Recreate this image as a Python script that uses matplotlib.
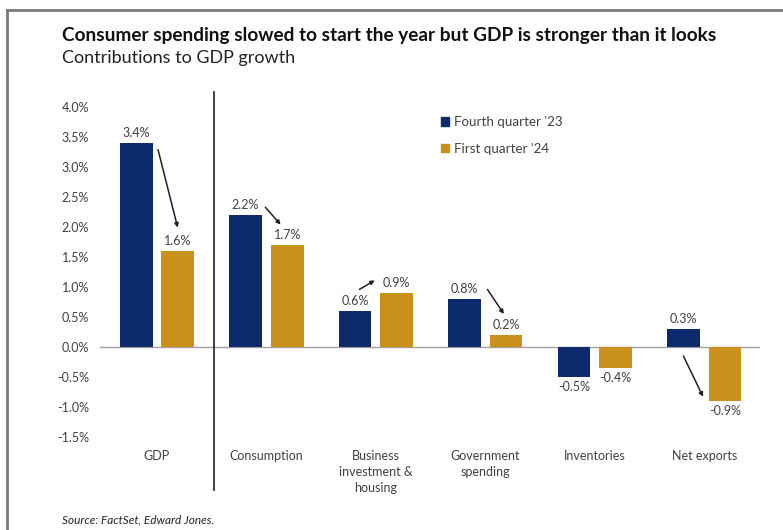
import numpy as np
import matplotlib.pyplot as plt
from matplotlib.lines import Line2D
from matplotlib.patches import Patch

plt.rcParams['font.family'] = ['Lato', 'DejaVu Sans']

# data
categories = ['GDP', 'Consumption', 'Business\ninvestment &\nhousing',
              'Government\nspending', 'Inventories', 'Net exports']
q4_23 = [3.4, 2.2, 0.6, 0.8, -0.5, 0.3]
q1_24 = [1.6, 1.7, 0.9, 0.2, -0.35, -0.9]
q4_labels = ['3.4%', '2.2%', '0.6%', '0.8%', '-0.5%', '0.3%']
q1_labels = ['1.6%', '1.7%', '0.9%', '0.2%', '-0.4%', '-0.9%']
series_names = ["Fourth quarter '23", "First quarter '24"]
yticks = [-1.5, -1.0, -0.5, 0.0, 0.5, 1.0, 1.5, 2.0, 2.5, 3.0, 3.5, 4.0]

navy = '#0c2a6c'
gold = '#c9901c'
txt = '#404040'

W, H = 783, 530
fig = plt.figure(figsize=(W / 100, H / 100), dpi=100)
ax = fig.add_axes([100 / W, 1 - 437 / H, 660 / W, 330 / H])

x = np.arange(len(categories))
bw = 0.30
off = 0.19
ax.bar(x - off, q4_23, bw, color=navy, zorder=2)
ax.bar(x + off, q1_24, bw, color=gold, zorder=2)

def put_label(xx, v, s):
    if v >= 0:
        ax.annotate(s, (xx, v), xytext=(0, 3), textcoords='offset points',
                    ha='center', va='bottom', fontsize=9, color=txt)
    else:
        ax.annotate(s, (xx, v), xytext=(0, -3), textcoords='offset points',
                    ha='center', va='top', fontsize=9, color=txt)

for i in range(len(categories)):
    put_label(x[i] - off, q4_23[i], q4_labels[i])
    put_label(x[i] + off, q1_24[i], q1_labels[i])

# little arrows from Q4 to Q1 (offsets relative to group centre / bar values)
arrows = [
    (0, 0.01, q4_23[0] - 0.11, 0.19, q1_24[0] + 0.39),
    (1, -0.01, q4_23[1] + 0.13, 0.13, q1_24[1] + 0.34),
    (2, -0.15, q4_23[2] + 0.36, -0.01, q1_24[2] + 0.21),
    (3, 0.02, q4_23[3] + 0.16, 0.17, q1_24[3] + 0.35),
    (5, -0.19, -0.15, -0.01, q1_24[5] + 0.07),
]
for i, dx0, y0, dx1, y1 in arrows:
    ax.annotate('', xy=(i + dx1, y1), xytext=(i + dx0, y0),
                arrowprops=dict(arrowstyle='-|>', color='#222222', lw=1.1,
                                mutation_scale=6, shrinkA=0, shrinkB=0))

ax.axhline(0, color='#a0a0a0', lw=1, zorder=1)
ax.set_xlim(-0.52, 5.51)
ax.set_ylim(-1.5, 4.0)
ax.set_yticks(yticks)
ax.set_yticklabels([f'{t:.1f}%' for t in yticks], fontsize=9, color=txt)
ax.set_xticks(x)
ax.set_xticklabels(categories, fontsize=9, color=txt, va='top', linespacing=1.45)
ax.tick_params(axis='both', length=0)
ax.tick_params(axis='x', pad=9)
ax.tick_params(axis='y', pad=8)
for s in ax.spines.values():
    s.set_visible(False)

# separator between GDP and the components
fig.add_artist(Line2D([214 / W, 214 / W], [1 - 92 / H, 1 - 490 / H],
                      color='#2b3445', lw=1.3))

# frame (top and left only, like a cropped screenshot)
fig.add_artist(Line2D([7 / W, 1], [1 - 10 / H, 1 - 10 / H], color='#7a7a7a', lw=2))
fig.add_artist(Line2D([7 / W, 7 / W], [1 - 10 / H, 0], color='#7a7a7a', lw=2))

handles = [Patch(color=navy), Patch(color=gold)]
fig.legend(handles, series_names, loc='upper left',
           bbox_to_anchor=(441 / W, 1 - 116 / H), frameon=False, fontsize=9.6,
           handlelength=0.6, handleheight=0.6, handletextpad=0.4,
           labelspacing=1.1, borderpad=0, borderaxespad=0,
           labelcolor=txt)

fig.text(62 / W, 1 - 35 / H,
         'Consumer spending slowed to start the year but GDP is stronger than it looks',
         fontsize=13.7, fontweight='bold', color='#111111', va='center')
fig.text(62 / W, 1 - 58 / H, 'Contributions to GDP growth', fontsize=13,
         color='#222222', va='center')
fig.text(62 / W, 1 - 520 / H, 'Source: FactSet, Edward Jones.', fontsize=8.5,
         style='italic', color='#222222', va='center')

fig.savefig('out.png', dpi=100, facecolor='white')
